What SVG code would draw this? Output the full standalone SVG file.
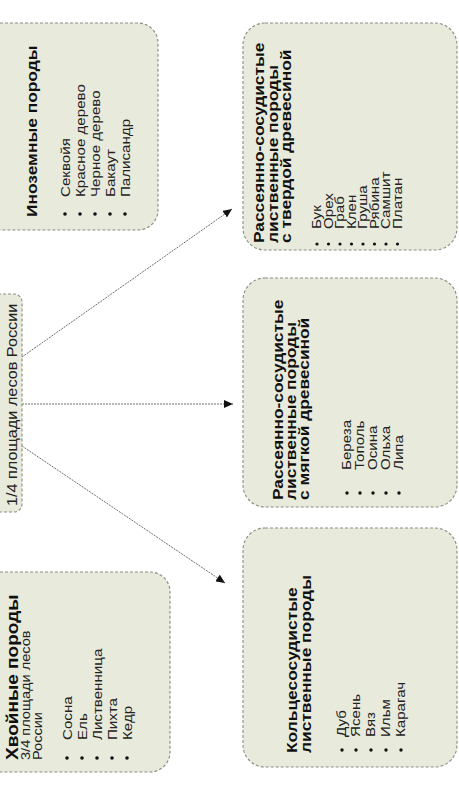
<svg xmlns="http://www.w3.org/2000/svg" width="459" height="800" viewBox="0 0 459 800">
<defs>
<style>
.box{fill:#e8eadc;stroke:#8c8c84;stroke-width:1.1;stroke-dasharray:3 2}
.tt{font-family:"Liberation Sans",Arial,sans-serif;font-weight:bold;font-size:15.5px;fill:#111}
.it{font-family:"Liberation Sans",Arial,sans-serif;font-size:13.5px;fill:#222}
.sb{font-family:"Liberation Sans",Arial,sans-serif;font-size:13px;fill:#222}
.bl{fill:#111}
.cn{fill:none;stroke:#6e6e6e;stroke-width:1;stroke-dasharray:2 1}
</style>
<marker id="ah" markerUnits="userSpaceOnUse" markerWidth="9" markerHeight="8" refX="9" refY="4" orient="auto">
<path d="M0,0 L9,4 L0,8 z" fill="#111"/>
</marker>
</defs>
<rect width="459" height="800" fill="#ffffff"/>

<g id="connectors">
<line class="cn" x1="22" y1="357" x2="232" y2="209" marker-end="url(#ah)"/>
<line class="cn" x1="22" y1="404" x2="233" y2="404" marker-end="url(#ah)"/>
<line class="cn" x1="22" y1="446" x2="225" y2="583" marker-end="url(#ah)"/>
</g>

<g id="node-foreign">
<rect class="box" x="-20" y="23" width="178" height="207" rx="20"/>
<text class="tt" transform="translate(37,217) rotate(-90) scale(1.12,1)">Иноземные породы</text>
<circle class="bl" cx="65" cy="214" r="1.8"/>
<circle class="bl" cx="80" cy="214" r="1.8"/>
<circle class="bl" cx="95" cy="214" r="1.8"/>
<circle class="bl" cx="110" cy="214" r="1.8"/>
<circle class="bl" cx="125" cy="214" r="1.8"/>
<text class="it" transform="translate(70,197) rotate(-90) scale(1.12,1)">Секвойя</text>
<text class="it" transform="translate(85,197) rotate(-90) scale(1.12,1)">Красное дерево</text>
<text class="it" transform="translate(100,197) rotate(-90) scale(1.12,1)">Черное дерево</text>
<text class="it" transform="translate(115,197) rotate(-90) scale(1.12,1)">Бакаут</text>
<text class="it" transform="translate(130,197) rotate(-90) scale(1.12,1)">Палисандр</text>
</g>

<g id="node-center">
<rect class="box" x="-20" y="294" width="42" height="218" rx="8"/>
<text class="it" style="font-size:14.5px" transform="translate(17,506) rotate(-90) scale(1.12,1)">1/4 площади лесов России</text>
</g>

<g id="node-conifer">
<rect class="box" x="-20" y="572" width="190" height="200" rx="20"/>
<text class="tt" style="font-size:17px" transform="translate(18,760) rotate(-90) scale(1.12,1)">Хвойные породы</text>
<text class="sb" transform="translate(30,760) rotate(-90) scale(1.12,1)">3/4 площади лесов</text>
<text class="sb" transform="translate(42,760) rotate(-90) scale(1.12,1)">России</text>
<circle class="bl" cx="67" cy="758" r="1.8"/>
<circle class="bl" cx="82" cy="758" r="1.8"/>
<circle class="bl" cx="97" cy="758" r="1.8"/>
<circle class="bl" cx="112" cy="758" r="1.8"/>
<circle class="bl" cx="127" cy="758" r="1.8"/>
<text class="it" transform="translate(72,740) rotate(-90) scale(1.12,1)">Сосна</text>
<text class="it" transform="translate(87,740) rotate(-90) scale(1.12,1)">Ель</text>
<text class="it" transform="translate(102,740) rotate(-90) scale(1.12,1)">Лиственница</text>
<text class="it" transform="translate(117,740) rotate(-90) scale(1.12,1)">Пихта</text>
<text class="it" transform="translate(132,740) rotate(-90) scale(1.12,1)">Кедр</text>
</g>

<g id="node-hard">
<rect class="box" x="243" y="23" width="214" height="227" rx="22"/>
<text class="tt" transform="translate(264,243) rotate(-90) scale(1.12,1)">Рассеянно-сосудистые</text>
<text class="tt" transform="translate(277.5,243) rotate(-90) scale(1.12,1)">лиственные породы</text>
<text class="tt" transform="translate(291,243) rotate(-90) scale(1.12,1)">с твердой древесиной</text>
<circle class="bl" cx="317" cy="244" r="1.6"/>
<circle class="bl" cx="328.5" cy="244" r="1.6"/>
<circle class="bl" cx="340" cy="244" r="1.6"/>
<circle class="bl" cx="351.5" cy="244" r="1.6"/>
<circle class="bl" cx="363" cy="244" r="1.6"/>
<circle class="bl" cx="374.5" cy="244" r="1.6"/>
<circle class="bl" cx="386" cy="244" r="1.6"/>
<circle class="bl" cx="397.5" cy="244" r="1.6"/>
<text class="it" transform="translate(321,229) rotate(-90) scale(1.12,1)">Бук</text>
<text class="it" transform="translate(332.5,229) rotate(-90) scale(1.12,1)">Орех</text>
<text class="it" transform="translate(344,229) rotate(-90) scale(1.12,1)">Граб</text>
<text class="it" transform="translate(355.5,229) rotate(-90) scale(1.12,1)">Клен</text>
<text class="it" transform="translate(367,229) rotate(-90) scale(1.12,1)">Груша</text>
<text class="it" transform="translate(378.5,229) rotate(-90) scale(1.12,1)">Рябина</text>
<text class="it" transform="translate(390,229) rotate(-90) scale(1.12,1)">Самшит</text>
<text class="it" transform="translate(401.5,229) rotate(-90) scale(1.12,1)">Платан</text>
</g>

<g id="node-soft">
<rect class="box" x="243" y="278" width="214" height="229" rx="22"/>
<text class="tt" transform="translate(283,500) rotate(-90) scale(1.12,1)">Рассеянно-сосудистые</text>
<text class="tt" transform="translate(296,500) rotate(-90) scale(1.12,1)">лиственные породы</text>
<text class="tt" transform="translate(309,500) rotate(-90) scale(1.12,1)">с мягкой древесиной</text>
<circle class="bl" cx="347" cy="493" r="1.7"/>
<circle class="bl" cx="360" cy="493" r="1.7"/>
<circle class="bl" cx="373" cy="493" r="1.7"/>
<circle class="bl" cx="386" cy="493" r="1.7"/>
<circle class="bl" cx="399" cy="493" r="1.7"/>
<text class="it" transform="translate(351,470) rotate(-90) scale(1.12,1)">Береза</text>
<text class="it" transform="translate(364,470) rotate(-90) scale(1.12,1)">Тополь</text>
<text class="it" transform="translate(377,470) rotate(-90) scale(1.12,1)">Осина</text>
<text class="it" transform="translate(390,470) rotate(-90) scale(1.12,1)">Ольха</text>
<text class="it" transform="translate(403,470) rotate(-90) scale(1.12,1)">Липа</text>
</g>

<g id="node-ring">
<rect class="box" x="243" y="528" width="214" height="239" rx="22"/>
<text class="tt" transform="translate(297,753) rotate(-90) scale(1.12,1)">Кольцесосудистые</text>
<text class="tt" transform="translate(311,753) rotate(-90) scale(1.12,1)">лиственные породы</text>
<circle class="bl" cx="342" cy="750" r="1.7"/>
<circle class="bl" cx="356" cy="750" r="1.7"/>
<circle class="bl" cx="371" cy="750" r="1.7"/>
<circle class="bl" cx="386" cy="750" r="1.7"/>
<circle class="bl" cx="401" cy="750" r="1.7"/>
<text class="it" transform="translate(346,737) rotate(-90) scale(1.12,1)">Дуб</text>
<text class="it" transform="translate(360,737) rotate(-90) scale(1.12,1)">Ясень</text>
<text class="it" transform="translate(375,737) rotate(-90) scale(1.12,1)">Вяз</text>
<text class="it" transform="translate(390,737) rotate(-90) scale(1.12,1)">Ильм</text>
<text class="it" transform="translate(405,737) rotate(-90) scale(1.12,1)">Карагач</text>
</g>
</svg>
